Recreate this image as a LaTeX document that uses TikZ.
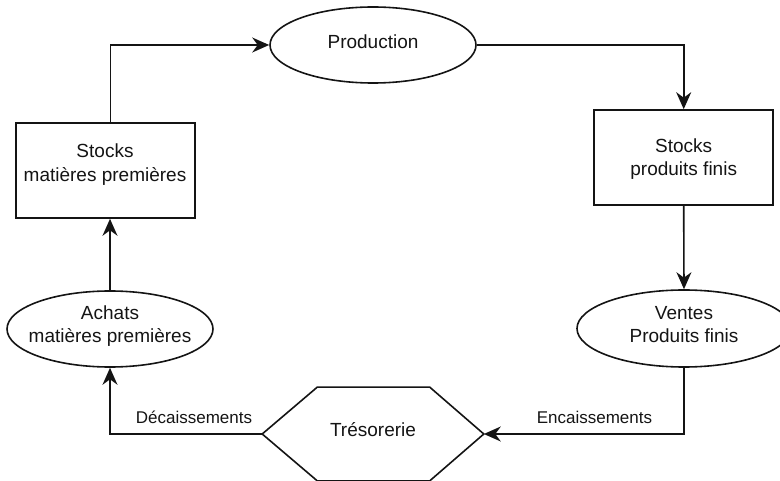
\documentclass[tikz,border=0pt]{standalone}
\usepackage{fontspec}
\setmainfont{Liberation Sans}
\usetikzlibrary{arrows.meta,shapes.geometric}
\begin{document}
\begin{tikzpicture}[x=1pt,y=-1pt,line width=1.6pt,color={black!92},
  box/.style={draw,rectangle,minimum width=179pt,minimum height=95pt,inner sep=0pt},
  oval/.style={draw,ellipse,inner sep=0pt},
  txt/.style={align=center,inner sep=0pt,font=\fontsize{19}{23.5}\selectfont},
  lbl/.style={inner sep=0pt,font=\fontsize{17}{20}\selectfont},
  arr/.style={-{Stealth[length=17pt,width=15pt,inset=5.5pt]}}]
\useasboundingbox (0,0) rectangle (780,481);
% nodes
\node[box] (smp) at (105.5,170.5) {};
\node[txt] (smpt) at (105,164.5) {Stocks\\matières premières};
\node[box] (spf) at (683.7,157.5) {};
\node[txt] (spft) at (683.7,159) {Stocks\\produits finis};
\node[oval,minimum width=206pt,minimum height=76pt] (prod) at (373,45) {};
\node[txt] (prodt) at (373,41.5) {Production};
\node[oval,minimum width=206pt,minimum height=76pt] (ach) at (110,329) {};
\node[txt] (acht) at (110,326) {Achats\\matières premières};
\node[oval,minimum width=214pt,minimum height=77pt] (ven) at (684,328.5) {};
\node[txt] (vent) at (684,324.5) {Ventes\\Produits finis};
\node[minimum width=220pt,minimum height=92pt,inner sep=0pt] (tre) at (373,434) {};
\draw (tre.west) -- ([xshift=55pt]tre.north west) -- ([xshift=-54pt]tre.north east)
  -- (tre.east) -- ([xshift=-54pt]tre.south east) -- ([xshift=55pt]tre.south west) -- cycle;
\node[txt] (tret) at (373,430) {Trésorerie};
% connectors
\draw[arr] ([xshift=5pt]smp.north) |- (prod.west);
\draw[arr] (prod.east) -| (spf.north);
\draw[arr] (spf.south) -- (ven.north);
\draw[arr] (ven.south) |- (tre.east);
\draw[arr] (tre.west) -| (ach.south);
\draw[arr] (ach.north) -- (ach.north |- smp.south);
% labels
\node[lbl] (dec) at (194,417.5) {Décaissements};
\node[lbl] (enc) at (594.5,417) {Encaissements};
\end{tikzpicture}
\end{document}
